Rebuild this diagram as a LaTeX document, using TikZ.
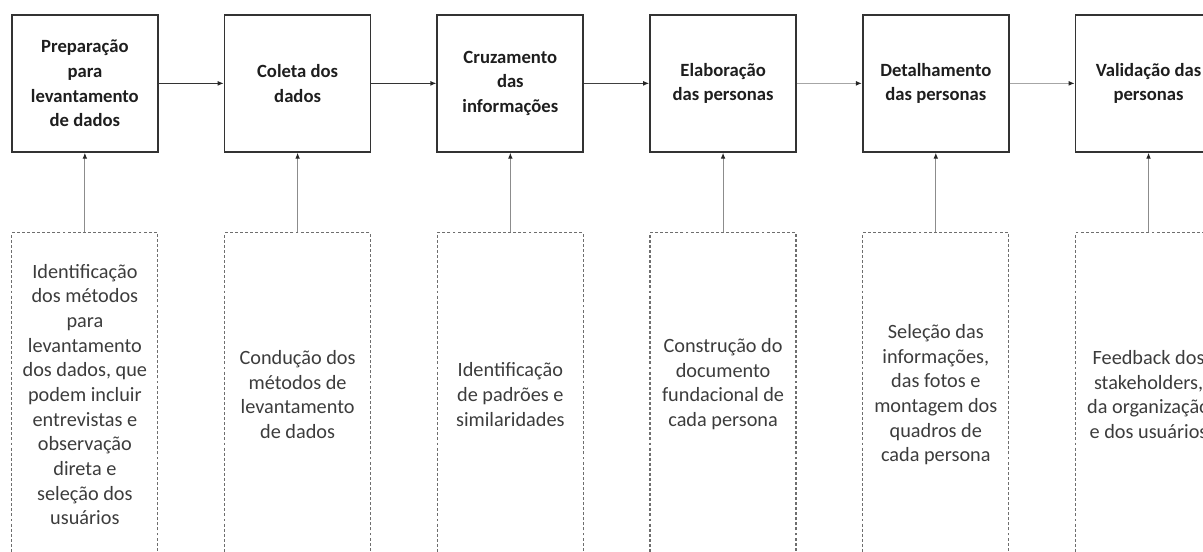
\documentclass[tikz,border=0pt]{standalone}
\usepackage{fontspec}
\setmainfont{Carlito}
\usetikzlibrary{positioning,arrows.meta}
\definecolor{tinta}{HTML}{1E1E1E}
\definecolor{borda}{HTML}{333333}
\definecolor{pontilhado}{HTML}{6E6E6E}
\definecolor{textocinza}{HTML}{3C3C3C}
\tikzset{
    etapa/.style={draw=borda, line width=1.3pt, minimum width=109.5pt, minimum height=102.75pt,
        inner sep=0pt, align=center, text=tinta, font=\bfseries\fontsize{14pt}{18.6pt}\selectfont},
    descricao/.style={draw=pontilhado, dash pattern=on 2.2pt off 1.6pt, line width=0.9pt,
        minimum width=109.5pt, minimum height=243pt, inner sep=0pt, align=center,
        text=textocinza, font=\fontsize{15.2pt}{18.5pt}\selectfont},
    fluxo/.style={-{Latex[length=4.5pt,width=3.6pt,color=black!85]}, line width=0.8pt},
}

\begin{document}
\begin{tikzpicture}
    \useasboundingbox (0,0) rectangle (902.25pt,-414pt);
    \clip (0,0) rectangle (902.25pt,-414pt);
    % etapas
    \node[etapa, anchor=north west] (e1) at (8.25pt,-10.5pt) {Preparação\\para\\levantamento\\de dados};
    \node[etapa, right=48.75pt of e1] (e2) {Coleta dos\\dados};
    \node[etapa, right=48.75pt of e2] (e3) {Cruzamento\\das\\informações};
    \node[etapa, right=48.75pt of e3] (e4) {Elaboração\\das personas};
    \node[etapa, right=48.75pt of e4] (e5) {Detalhamento\\das personas};
    \node[etapa, right=48.75pt of e5] (e6) {Validação das\\personas};
    % descricoes
    \node[descricao, below=59.5pt of e1] (d1) {Identificação\\dos métodos\\para\\levantamento\\dos dados, que\\podem incluir\\entrevistas e\\observação\\direta e\\seleção dos\\usuários};
    \node[descricao, below=59.5pt of e2] (d2) {Condução dos\\métodos de\\levantamento\\de dados};
    \node[descricao, below=59.5pt of e3] (d3) {Identificação\\de padrões e\\similaridades};
    \node[descricao, below=59.5pt of e4] (d4) {Construção do\\documento\\fundacional de\\cada persona\\};
    \node[descricao, below=59.5pt of e5] (d5) {Seleção das\\informações,\\das fotos e\\montagem dos\\quadros de\\cada persona};
    \node[descricao, below=59.5pt of e6] (d6) {Feedback dos\\stakeholders,\\da organização\\e dos usuários};
    % setas
    \foreach \i/\j/\cor in {1/2/black!80, 2/3/black!80, 3/4/black!75, 4/5/black!35, 5/6/black!35}{
        \draw[fluxo, \cor] (e\i) -- (e\j);
    }
    \foreach \i in {1,...,6}{
        \draw[fluxo, black!45] (d\i) -- (e\i);
    }
\end{tikzpicture}
\end{document}
